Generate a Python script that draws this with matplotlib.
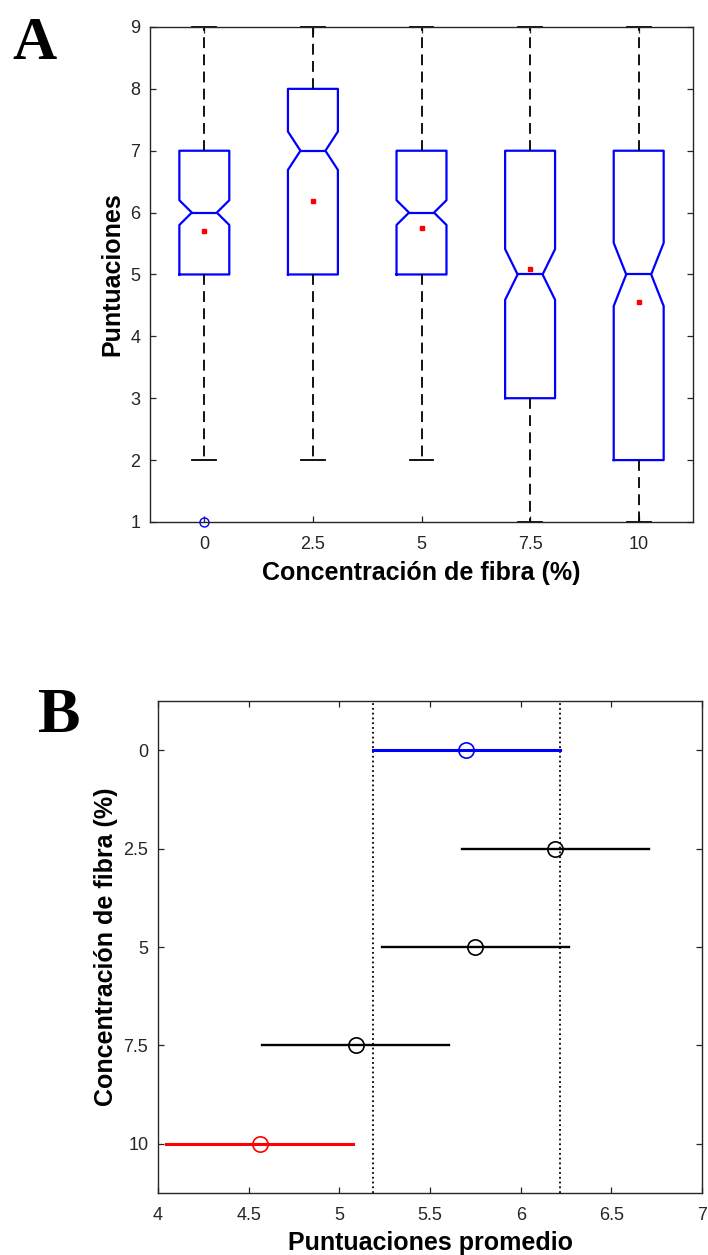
import numpy as np
import matplotlib.pyplot as plt

# data
conc_labels = ['0', '2.5', '5', '7.5', '10']
q1 = [5, 5, 5, 3, 2]
medians = [6, 7, 6, 5, 5]
q3 = [7, 8, 7, 7, 7]
whis_lo = [2, 2, 2, 1, 1]
whis_hi = [9, 9, 9, 9, 9]
notch_half = [0.20, 0.31, 0.20, 0.41, 0.51]
means = [5.70, 6.19, 5.75, 5.09, 4.56]
outliers = [[1], [], [], [], []]

# multiple comparison (panel B)
ci_half = 0.516
colors_b = ['blue', 'black', 'black', 'black', 'red']

plt.rcParams['font.family'] = ['Liberation Sans', 'DejaVu Sans']
frame_col = '#262626'

fig = plt.figure(figsize=(7.08, 12.55), dpi=100)

# ---------------- panel A: notched boxplots
axA = fig.add_axes([0.2119, 0.5841, 0.7669, 0.3944])
pos = np.arange(1, 6)
stats = []
for i in range(5):
    stats.append(dict(med=medians[i], q1=q1[i], q3=q3[i],
                      whislo=whis_lo[i], whishi=whis_hi[i],
                      fliers=outliers[i],
                      cilo=medians[i] - notch_half[i], cihi=medians[i] + notch_half[i],
                      mean=means[i]))

bp = axA.bxp(stats, positions=pos, widths=0.46, capwidths=0.22, shownotches=True,
             showmeans=True, patch_artist=False,
             boxprops=dict(color='blue', linewidth=1.6),
             medianprops=dict(color='blue', linewidth=1.6),
             whiskerprops=dict(color='black', linewidth=1.3, linestyle=(0, (6, 3.5))),
             capprops=dict(color='black', linewidth=1.3),
             flierprops=dict(marker='o', markerfacecolor='none', markeredgecolor='blue',
                             markersize=6.5, markeredgewidth=1.0),
             meanprops=dict(marker='s', markerfacecolor='red', markeredgecolor='red',
                            markersize=3.5))
for key in bp:
    for art in bp[key]:
        art.set_clip_on(False)

axA.set_xlim(0.5, 5.5)
axA.set_ylim(1, 9)
axA.set_xticks(pos)
axA.set_xticklabels(conc_labels)
axA.set_yticks(range(1, 10))
axA.set_xlabel('Concentración de fibra (%)', fontsize=18, fontweight='bold', labelpad=6)
axA.set_ylabel('Puntuaciones', fontsize=18, fontweight='bold', labelpad=4)

# ---------------- panel B: comparison intervals
axB = fig.add_axes([0.2232, 0.0494, 0.7684, 0.3920])
ref_lo = means[0] - ci_half
ref_hi = means[0] + ci_half
axB.axvline(ref_lo, color='black', linestyle=':', linewidth=1.3)
axB.axvline(ref_hi, color='black', linestyle=':', linewidth=1.3)
for i in range(5):
    lw = 2.2 if colors_b[i] != 'black' else 1.7
    axB.plot([means[i] - ci_half, means[i] + ci_half], [pos[i], pos[i]],
             color=colors_b[i], linewidth=lw)
    axB.plot(means[i], pos[i], marker='o', markersize=11, markerfacecolor='none',
             markeredgecolor=colors_b[i], markeredgewidth=1.2)

axB.set_xlim(4, 7)
axB.set_ylim(5.5, 0.5)
axB.set_xticks(np.arange(4, 7.01, 0.5))
axB.set_xticklabels(['4', '4.5', '5', '5.5', '6', '6.5', '7'])
axB.set_yticks(pos)
axB.set_yticklabels(conc_labels)
axB.set_xlabel('Puntuaciones promedio', fontsize=18, fontweight='bold', labelpad=5)
axB.set_ylabel('Concentración de fibra (%)', fontsize=18, fontweight='bold', labelpad=4)

for ax in (axA, axB):
    ax.tick_params(direction='in', length=4, width=0.9, labelsize=13,
                   colors=frame_col, top=True, right=True)
    ax.tick_params(axis='x', pad=10)
    ax.tick_params(axis='y', pad=7)
    for s in ax.spines.values():
        s.set_color(frame_col)
        s.set_linewidth(1.0)

fig.text(12 / 708, 1 - 59 / 1255, 'A', fontsize=44, fontweight='bold',
         family='Liberation Serif', va='baseline', ha='left')
fig.text(38 / 708, 1 - 732 / 1255, 'B', fontsize=46, fontweight='bold',
         family='Liberation Serif', va='baseline', ha='left')

fig.savefig('out.png', dpi=100)
